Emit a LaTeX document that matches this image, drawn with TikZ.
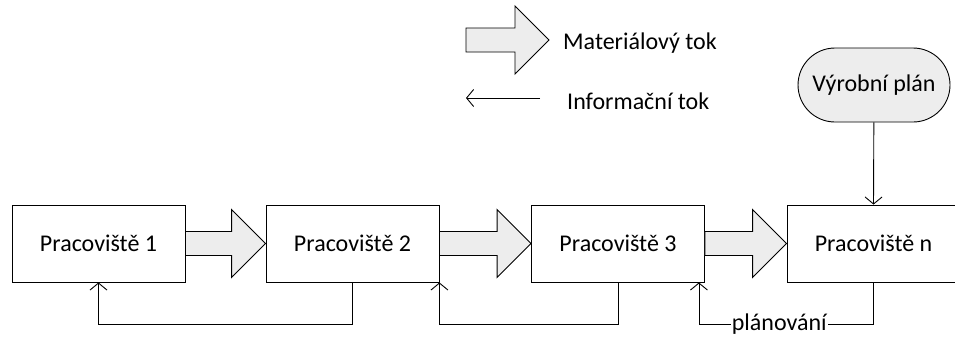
\documentclass[tikz,border=0pt]{standalone}
\usepackage{fontspec}
\setmainfont{Carlito}
\usepackage{tikz}
\usetikzlibrary{arrows.meta, calc, positioning, shapes.misc}

% blokova sipka (materialovy tok) mezi dvema body
\newcommand{\blokSipka}[2]{%
  \draw[blok] let \p1=#1, \p2=#2 in
    (\x1,\y1+12) -- (\x2-34,\y1+12) -- (\x2-34,\y1+34) -- (\x2,\y1)
    -- (\x2-34,\y1-34) -- (\x2-34,\y1-12) -- (\x1,\y1-12) -- cycle;}

\begin{document}
\begin{tikzpicture}[x=1pt,y=-1pt]
            % Styly
            \tikzstyle{pracoviste}=[draw,line width=0.9pt,minimum width=173pt,minimum height=77pt,inner sep=0pt,font=\fontsize{24}{28}\selectfont]
            \tikzstyle{plan}=[draw,line width=0.9pt,rounded rectangle,fill=gray!14,minimum width=152pt,minimum height=74pt,inner sep=0pt,font=\fontsize{24}{28}\selectfont]
            \tikzstyle{blok}=[draw,line width=0.9pt,fill=gray!14]
            \tikzstyle{info}=[line width=0.9pt,-{Straight Barb[length=7pt,width=17pt]}]
            \tikzstyle{popis}=[inner sep=0pt,font=\fontsize{24}{28}\selectfont]
            % Rozmery
            \def\Rada{243.5}
            \useasboundingbox (0,0) rectangle (955,338);
            % Legenda
            \coordinate (legA) at (466,40);
            \coordinate (legB) at (549,40);
            \blokSipka{(legA)}{(legB)}
            \node[popis,anchor=west] (mat) at (563,43) {Materiálový tok};
            \coordinate (infA) at (540,98);
            \coordinate (infB) at (466,98);
            \draw[info] (infA) -- (infB);
            \node[popis,anchor=west] (inf) at (567,101) {Informační tok};
            % Uzly
            \node[pracoviste] (P1) at (98.5,\Rada) {Pracoviště 1};
            \node[pracoviste] (P2) at (352.5,\Rada) {Pracoviště 2};
            \node[pracoviste] (P3) at (618,\Rada) {Pracoviště 3};
            \node[pracoviste] (Pn) at (873.5,\Rada) {Pracoviště n};
            \node[plan] (VP) at (874,85) {Výrobní plán};
            % Materialovy tok
            \blokSipka{(P1.east)}{(P2.west)}
            \blokSipka{(P2.east)}{(P3.west)}
            \blokSipka{(P3.east)}{(Pn.west)}
            % Informacni tok
            \draw[info] (VP) -- (Pn.north);
            \draw[info] (P2.south) -- ++(0,42) -| (P1.south);
            \draw[info] (P3.south) -- ++(0,42) -| (P2.south east);
            \draw[info] (Pn.south) -- ++(0,42) -| node[pos=0.27,fill=white,popis,inner xsep=1pt] {plánování} ([xshift=-6pt]P3.south east);
        \end{tikzpicture}
\end{document}
